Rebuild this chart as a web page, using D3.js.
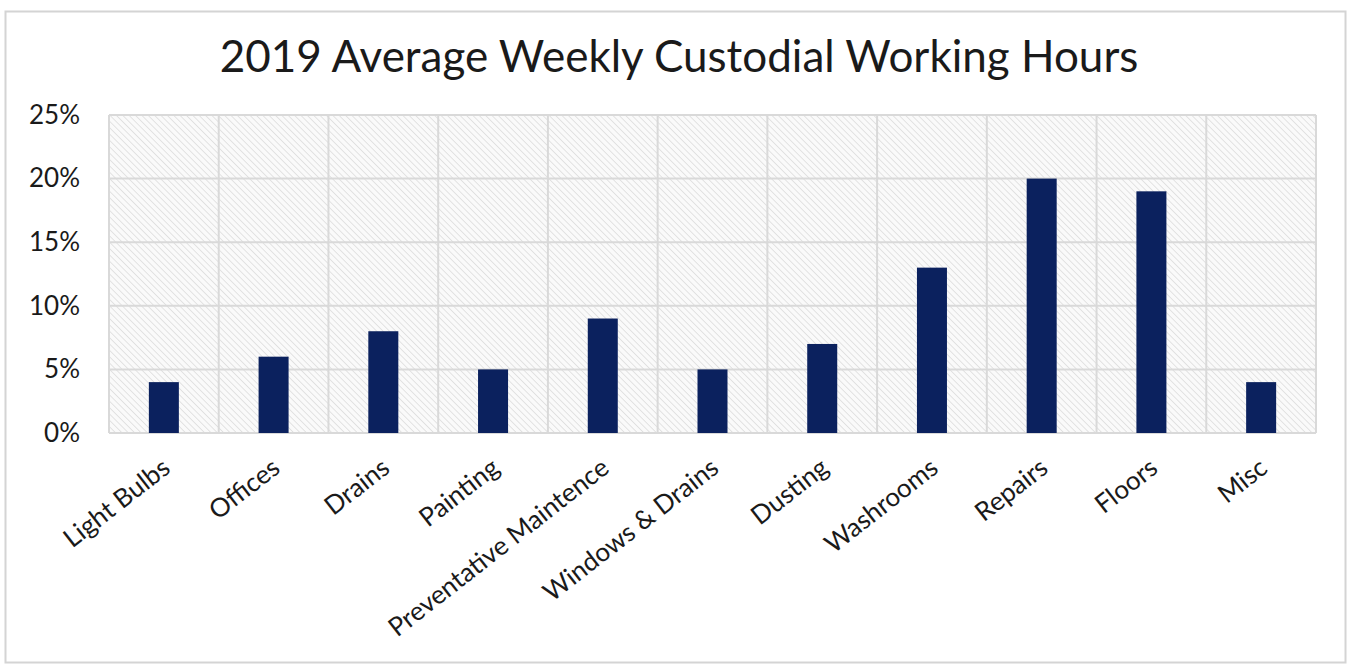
<!DOCTYPE html>
<html>
<head>
<meta charset="utf-8">
<script src="https://cdn.jsdelivr.net/npm/d3@7"></script>
<style>
  html, body { margin: 0; padding: 0; background: #fff; }
  svg { display: block; }
  text { font-family: Lato, "Open Sans", sans-serif; fill: #1a1a1a; }
</style>
</head>
<body>
<svg id="chart" width="1351" height="665"></svg>
<script>
// Share of weekly custodial working hours by task, 2019 (percent)
const categories = ["Light Bulbs", "Offices", "Drains", "Painting", "Preventative Maintence",
  "Windows & Drains", "Dusting", "Washrooms", "Repairs", "Floors", "Misc"];
const shares = [4, 6, 8, 5, 9, 5, 7, 13, 20, 19, 4];
const yTicks = [0, 5, 10, 15, 20, 25];
const chartTitle = "2019 Average Weekly Custodial Working Hours";

const svg = d3.select("#chart");
const W = 1351, H = 665;
const margin = { left: 109, right: 35, top: 115, bottom: 232 };
const plotW = W - margin.left - margin.right;
const plotH = H - margin.top - margin.bottom;

// outer frame
svg.append("rect")
  .attr("x", 5.5).attr("y", 11.5)
  .attr("width", 1340).attr("height", 651)
  .attr("fill", "#fff").attr("stroke", "#d4d4d4").attr("stroke-width", 2);

// diagonal hatch fill for the plot area (lines running top-left to bottom-right)
const defs = svg.append("defs");
const pat = defs.append("pattern")
  .attr("id", "hatch")
  .attr("patternUnits", "userSpaceOnUse")
  .attr("width", 4.5).attr("height", 4.5)
  .attr("patternTransform", "rotate(-45)");
pat.append("rect").attr("width", 4.5).attr("height", 4.5).attr("fill", "#fafafa");
pat.append("line")
  .attr("x1", 0).attr("y1", 0).attr("x2", 0).attr("y2", 4.5)
  .attr("stroke", "#d3d3d3").attr("stroke-width", 1.2);

const g = svg.append("g").attr("transform", `translate(${margin.left},${margin.top})`);

const x = d3.scaleBand().domain(categories).range([0, plotW]).paddingInner(0).paddingOuter(0);
const y = d3.scaleLinear().domain([0, 25]).range([plotH, 0]);

g.append("rect")
  .attr("width", plotW).attr("height", plotH)
  .attr("fill", "url(#hatch)");

// horizontal gridlines
g.append("g")
  .selectAll("line")
  .data(yTicks)
  .join("line")
  .attr("x1", 0).attr("x2", plotW)
  .attr("y1", d => y(d)).attr("y2", d => y(d))
  .attr("stroke", "#d9d9d9").attr("stroke-width", 2);

// vertical gridlines at category boundaries
const bounds = categories.map(c => x(c)).concat([plotW]);
g.append("g")
  .selectAll("line")
  .data(bounds)
  .join("line")
  .attr("x1", d => d).attr("x2", d => d)
  .attr("y1", 0).attr("y2", plotH)
  .attr("stroke", "#d9d9d9").attr("stroke-width", 2);

// bars
const barW = 30;
g.append("g")
  .selectAll("rect")
  .data(categories.map((c, i) => ({ c, v: shares[i] })))
  .join("rect")
  .attr("x", d => x(d.c) + x.bandwidth() / 2 - barW / 2)
  .attr("y", d => y(d.v))
  .attr("width", barW)
  .attr("height", d => y(0) - y(d.v))
  .attr("fill", "#0b215e");

// y axis labels
const yAxis = g.append("g")
  .call(d3.axisLeft(y).tickValues(yTicks).tickFormat(d => d + "%").tickSize(0).tickPadding(29));
yAxis.select(".domain").remove();
yAxis.selectAll("text")
  .style("font-family", 'Lato, sans-serif')
  .style("font-size", "26px")
  .attr("fill", "#1a1a1a");

// x axis labels, rotated
const xAxis = g.append("g")
  .attr("transform", `translate(0,${plotH})`)
  .call(d3.axisBottom(x).tickSize(0).tickPadding(0));
xAxis.select(".domain").remove();
xAxis.selectAll("text")
  .style("font-family", 'Lato, sans-serif')
  .style("font-size", "26px")
  .attr("fill", "#1a1a1a")
  .attr("text-anchor", "end")
  .attr("dy", null)
  .attr("transform", "translate(8,38) rotate(-38)");

// title
svg.append("text")
  .attr("x", 679).attr("y", 72)
  .attr("text-anchor", "middle")
  .style("font-size", "44px")
  .attr("fill", "#111")
  .text(chartTitle);
</script>
</body>
</html>
